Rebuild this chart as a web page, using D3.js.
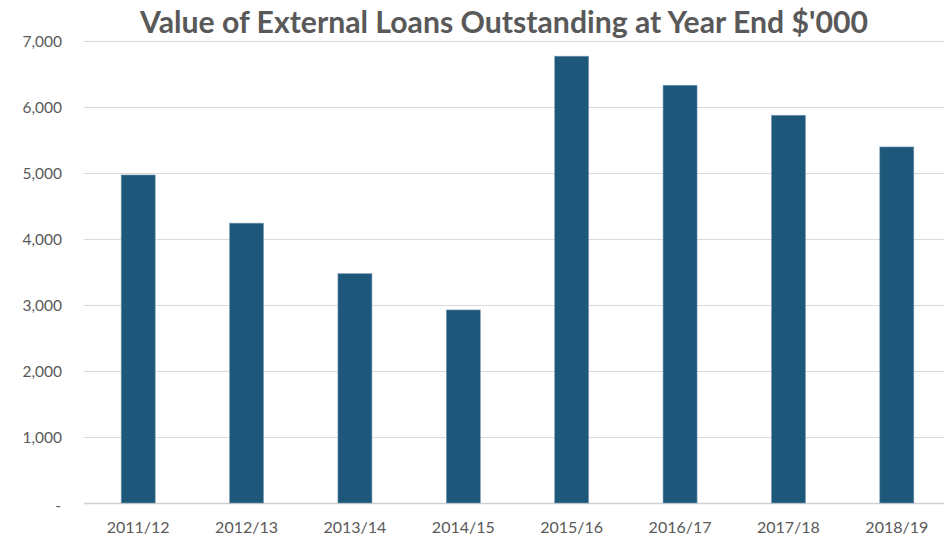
<!DOCTYPE html>
<html>
<head>
<meta charset="utf-8">
<script src="https://cdn.jsdelivr.net/npm/d3@7"></script>
<style>
  html, body { margin: 0; padding: 0; background: #ffffff; }
  svg { display: block; }
</style>
</head>
<body>
<div id="chart"></div>
<script>
// Loans outstanding at year end, in $'000
const years = ["2011/12", "2012/13", "2013/14", "2014/15", "2015/16", "2016/17", "2017/18", "2018/19"];
const loans = [4970, 4240, 3475, 2925, 6770, 6330, 5875, 5395];
const yTicks = [0, 1000, 2000, 3000, 4000, 5000, 6000, 7000];
const chartTitle = "Value of External Loans Outstanding at Year End $'000";

const width = 944, height = 536;
const margin = { top: 41, right: -7, bottom: 33, left: 84 };

const svg = d3.select("#chart").append("svg")
  .attr("width", width)
  .attr("height", height);

const x = d3.scaleBand()
  .domain(years)
  .range([margin.left, width - margin.right])
  .paddingInner(0.686)
  .paddingOuter(0.343);

const y = d3.scaleLinear()
  .domain([0, 7000])
  .range([height - margin.bottom, margin.top]);

// Horizontal gridlines
svg.append("g")
  .selectAll("line")
  .data(yTicks)
  .join("line")
  .attr("x1", margin.left)
  .attr("x2", width - margin.right)
  .attr("y1", d => y(d) + 0.5)
  .attr("y2", d => y(d) + 0.5)
  .attr("stroke", d => d === 0 ? "#d0d0d0" : "#d9d9d9")
  .attr("stroke-width", d => d === 0 ? 1.5 : 1);

// Y axis labels
const yAxis = d3.axisLeft(y)
  .tickValues(yTicks)
  .tickSize(0)
  .tickPadding(0)
  .tickFormat(d => d === 0 ? "-" : d3.format(",")(d));

const gy = svg.append("g")
  .attr("transform", `translate(62,0)`)
  .call(yAxis);
gy.select(".domain").remove();
gy.selectAll("text")
  .attr("font-family", "Lato, 'Open Sans', sans-serif")
  .attr("font-size", 15.5)
  .attr("fill", "#595959")
  .attr("dy", "0.36em");
gy.selectAll(".tick")
  .filter(d => d === 0)
  .select("text")
  .attr("dx", "-1")
  .attr("dy", "0.5em");

// Bars
svg.append("g")
  .selectAll("rect")
  .data(years.map((yr, i) => ({ yr, v: loans[i] })))
  .join("rect")
  .attr("x", d => x(d.yr))
  .attr("width", x.bandwidth())
  .attr("y", d => y(d.v))
  .attr("height", d => y(0) - y(d.v))
  .attr("fill", "#1d5779")
  .attr("stroke", "#7f9fb6")
  .attr("stroke-width", 0.6);

// X axis labels
const xAxis = d3.axisBottom(x).tickSize(0).tickPadding(0);
const gx = svg.append("g")
  .attr("transform", `translate(0,533)`)
  .call(xAxis);
gx.select(".domain").remove();
gx.selectAll("text")
  .attr("font-family", "Lato, 'Open Sans', sans-serif")
  .attr("font-size", 16)
  .attr("fill", "#595959")
  .attr("dy", "0");

// Title
svg.append("text")
  .attr("x", 504)
  .attr("y", 33)
  .attr("text-anchor", "middle")
  .attr("font-family", "Lato, 'Open Sans', sans-serif")
  .attr("font-weight", "bold")
  .attr("font-size", 30)
  .attr("fill", "#595959")
  .attr("textLength", 728)
  .attr("lengthAdjust", "spacingAndGlyphs")
  .text(chartTitle);
</script>
</body>
</html>
